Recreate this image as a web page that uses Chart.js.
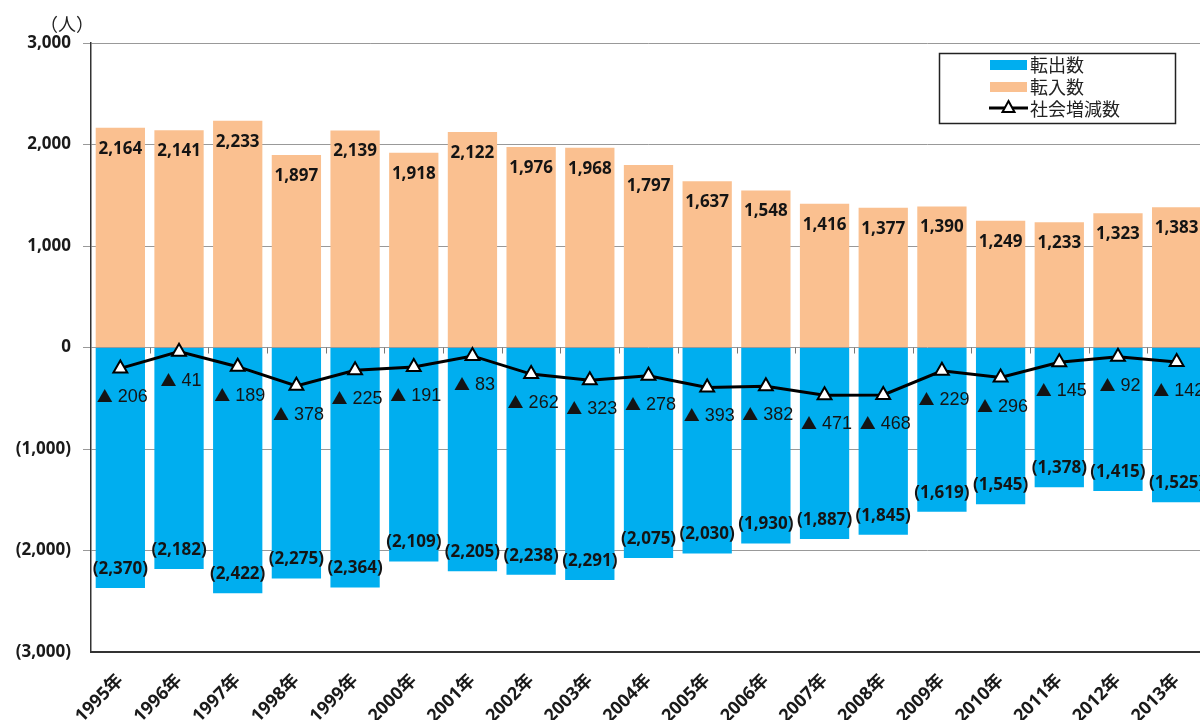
<!DOCTYPE html>
<html lang="ja">
<head>
<meta charset="utf-8">
<title>転入・転出数の推移</title>
<script src="https://cdn.jsdelivr.net/npm/chart.js@4"></script>
<style>
  html, body { margin: 0; padding: 0; background: #fff; overflow: hidden; }
</style>
</head>
<body>
<canvas id="migration" width="1206" height="720"></canvas>
<script>
const years = ['1995年', '1996年', '1997年', '1998年', '1999年', '2000年', '2001年', '2002年', '2003年', '2004年',
               '2005年', '2006年', '2007年', '2008年', '2009年', '2010年', '2011年', '2012年', '2013年']
const outflow = [-2370, -2182, -2422, -2275, -2364, -2109, -2205, -2238, -2291, -2075,
                 -2030, -1930, -1887, -1845, -1619, -1545, -1378, -1415, -1525]
const inflow = [2164, 2141, 2233, 1897, 2139, 1918, 2122, 1976, 1968, 1797,
                1637, 1548, 1416, 1377, 1390, 1249, 1233, 1323, 1383]
const netChange = [-206, -41, -189, -378, -225, -191, -83, -262, -323, -278,
                   -393, -382, -471, -468, -229, -296, -145, -92, -142]
const yTicks = [-3000, -2000, -1000, 0, 1000, 2000, 3000]

const BLUE = '#00AEEF'
const ORANGE = '#FAC090'

function fmt(v) {
    const s = Math.abs(v).toLocaleString('en-US')
    return v < 0 ? '(' + s + ')' : s
}

// numbers on bars and ▲ labels under the line points
const valueLabels = {
    id: 'valueLabels',
    afterDatasetsDraw(chart) {
        const ctx = chart.ctx
        ctx.save()
        ctx.textBaseline = 'middle'
        chart.data.datasets.forEach((ds, i) => {
            chart.getDatasetMeta(i).data.forEach((el, j) => {
                const v = ds.data[j]
                ctx.fillStyle = '#141414'
                if (ds.type === 'line') {
                    const num = String(Math.abs(v))
                    const markFont = '16px "Noto Sans CJK JP", sans-serif'
                    const numFont = '18px "Liberation Sans", Arial, sans-serif'
                    ctx.font = markFont
                    const mw = ctx.measureText('▲').width
                    ctx.font = numFont
                    const nw = ctx.measureText(num).width
                    const gap = 5
                    const left = el.x + 2 - (mw + gap + nw) / 2
                    const y = el.y + 28
                    ctx.textAlign = 'left'
                    ctx.font = markFont
                    ctx.fillText('▲', left, y)
                    ctx.font = numFont
                    ctx.fillText(num, left + mw + gap, y + 1)
                } else {
                    ctx.textAlign = 'center'
                    ctx.font = 'bold 17px "Open Sans", sans-serif'
                    ctx.fillText(fmt(v), el.x, v >= 0 ? el.y + 21 : el.y - 19)
                }
            })
        })
        ctx.restore()
    }
}

// small category ticks on the zero line, plus the unit label
const zeroTicks = {
    id: 'zeroTicks',
    beforeDatasetsDraw(chart) {
        const ctx = chart.ctx
        const x = chart.scales.x
        const y0 = chart.scales.y.getPixelForValue(0)
        const step = (x.right - x.left) / years.length
        ctx.save()
        ctx.strokeStyle = '#777'
        ctx.lineWidth = 1
        ctx.beginPath()
        for (let i = 1; i <= years.length; i++) {
            const px = Math.round(x.left + i * step) + 0.5
            ctx.moveTo(px, y0)
            ctx.lineTo(px, y0 + 6)
        }
        ctx.stroke()
        ctx.font = '18px "Noto Sans CJK JP", sans-serif'
        ctx.fillStyle = '#222'
        ctx.textAlign = 'center'
        ctx.textBaseline = 'middle'
        ctx.fillText('（人）', 67, chart.chartArea.top - 19)
        ctx.restore()
    }
}

// framed legend in the upper right of the plot
const boxLegend = {
    id: 'boxLegend',
    afterDraw(chart) {
        const ctx = chart.ctx
        const area = chart.chartArea
        const x0 = area.right - 267, y0 = area.top + 10, w = 236, h = 70
        ctx.save()
        ctx.fillStyle = '#fff'
        ctx.fillRect(x0, y0, w, h)
        ctx.strokeStyle = '#222'
        ctx.lineWidth = 1.5
        ctx.strokeRect(x0 + 0.5, y0 + 0.5, w, h)
        ctx.font = '18px "Noto Sans CJK JP", sans-serif'
        ctx.textBaseline = 'middle'
        chart.data.datasets.forEach((ds, i) => {
            const cy = y0 + 11 + i * 22
            if (ds.type === 'line') {
                ctx.strokeStyle = ds.borderColor
                ctx.lineWidth = 3
                ctx.beginPath()
                ctx.moveTo(x0 + 50, cy)
                ctx.lineTo(x0 + 89, cy)
                ctx.stroke()
                ctx.fillStyle = '#fff'
                ctx.strokeStyle = '#000'
                ctx.lineWidth = 2
                ctx.beginPath()
                ctx.moveTo(x0 + 69.5, cy - 7)
                ctx.lineTo(x0 + 75.5, cy + 4)
                ctx.lineTo(x0 + 63.5, cy + 4)
                ctx.closePath()
                ctx.fill()
                ctx.stroke()
            } else {
                ctx.fillStyle = ds.backgroundColor
                ctx.fillRect(x0 + 51, cy - 4, 37, 10)
            }
            ctx.fillStyle = '#222'
            ctx.fillText(ds.label, x0 + 91, cy + 1)
        })
        ctx.restore()
    }
}

new Chart('migration', {
    type: 'bar',
    data: {
        labels: years,
        datasets: [
            { label: '転出数', data: outflow, backgroundColor: BLUE, order: 1 },
            { label: '転入数', data: inflow, backgroundColor: ORANGE, order: 1 },
            {
                type: 'line', label: '社会増減数', data: netChange, stack: 'net', order: 0,
                borderColor: '#000', borderWidth: 3, tension: 0,
                pointStyle: 'triangle', pointRadius: 8, pointBorderWidth: 2,
                pointBackgroundColor: '#fff', pointBorderColor: '#000'
            }
        ]
    },
    options: {
        responsive: false,
        animation: false,
        layout: { autoPadding: false, padding: { top: 43, right: 0, left: 0, bottom: 0 } },
        datasets: { bar: { barPercentage: 0.84, categoryPercentage: 1 } },
        plugins: { legend: { display: false }, tooltip: { enabled: false } },
        scales: {
            x: {
                stacked: true,
                grid: { display: false },
                border: { color: '#333', width: 2 },
                ticks: {
                    color: '#1a1a1a', maxRotation: 45, minRotation: 45, padding: 10,
                    font: { family: '"Open Sans", "Noto Sans CJK JP", sans-serif', size: 18, weight: 'bold' }
                },
                afterFit: s => {
                    s.height = 68
                    s.paddingLeft = 0
                    s.paddingRight = 0
                }
            },
            y: {
                stacked: true,
                min: yTicks[0],
                max: yTicks[yTicks.length - 1],
                afterBuildTicks: s => { s.ticks = yTicks.map(v => ({ value: v })) },
                grid: {
                    color: c => c.tick && c.tick.value === yTicks[0] ? 'rgba(0,0,0,0)' : '#999',
                    tickLength: 8
                },
                border: { color: '#333', width: 1.5 },
                ticks: {
                    color: '#1a1a1a', padding: 12, callback: v => fmt(v),
                    font: { family: '"Open Sans", sans-serif', size: 17, weight: 'bold' }
                },
                afterFit: s => {
                    s.width = 91
                    s.paddingTop = 0
                    s.paddingBottom = 0
                }
            }
        }
    },
    plugins: [zeroTicks, valueLabels, boxLegend]
})
</script>
</body>
</html>
